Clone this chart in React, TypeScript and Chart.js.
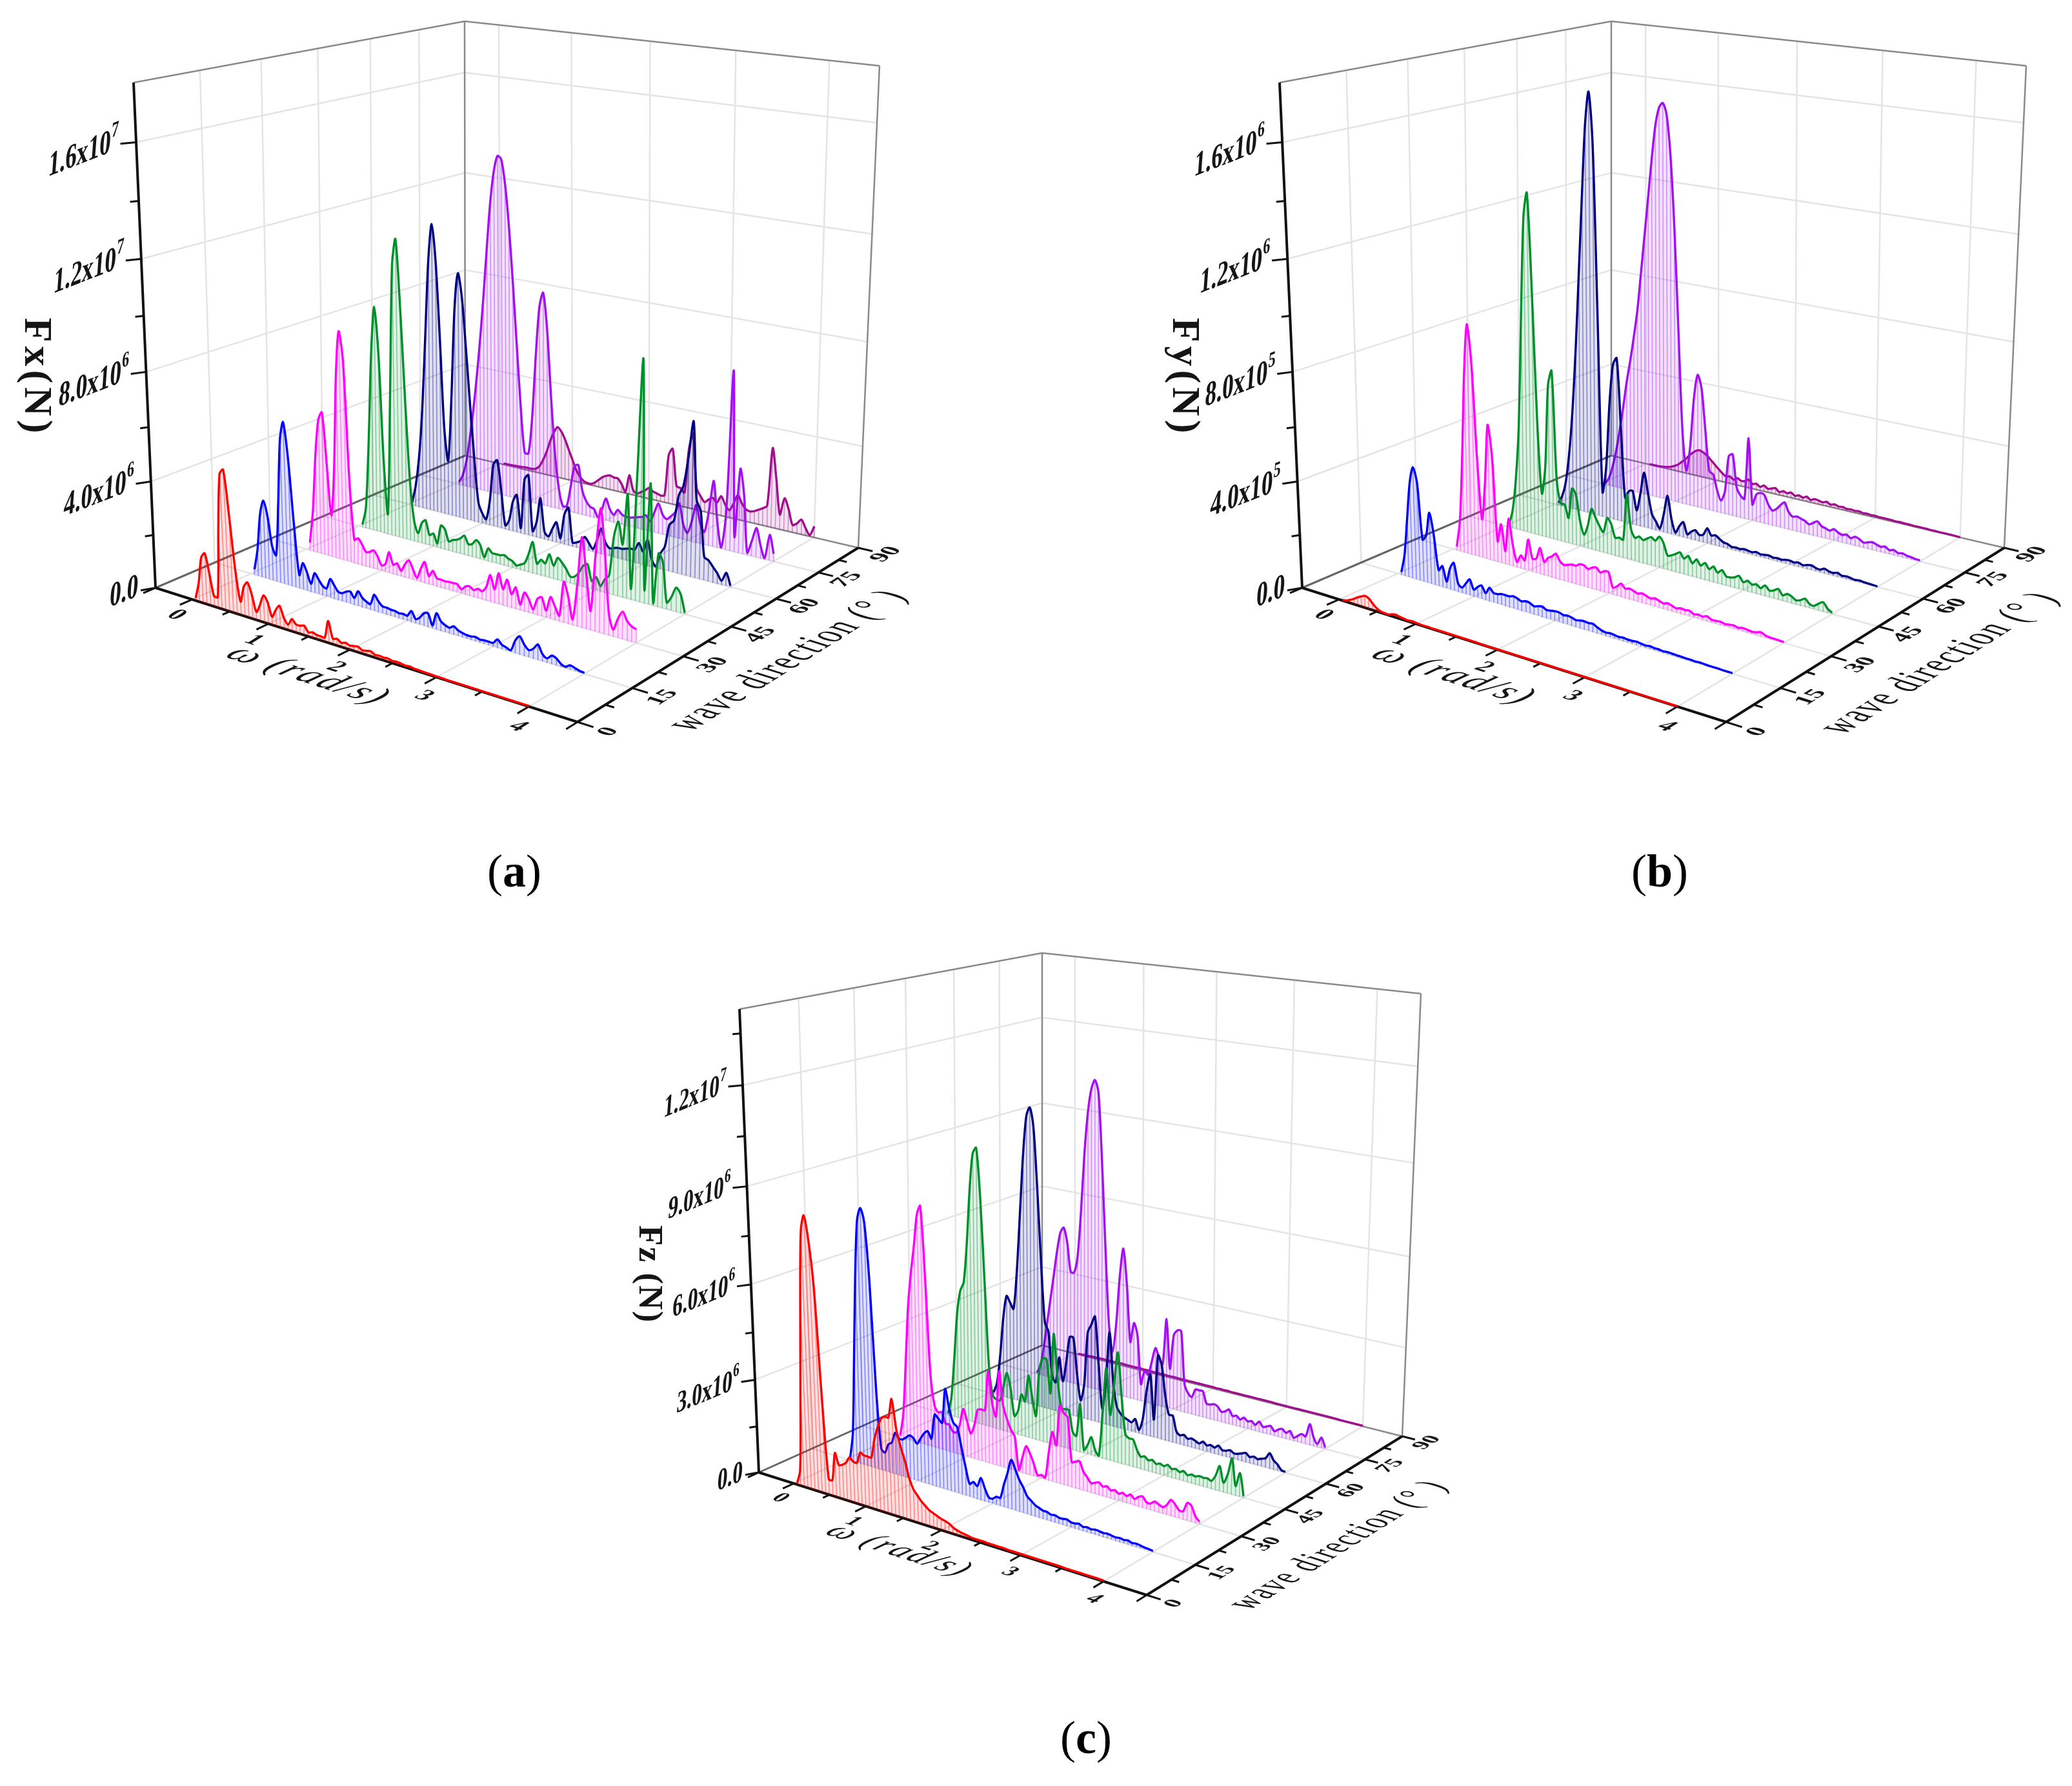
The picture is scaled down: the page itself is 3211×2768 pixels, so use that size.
import React, { useEffect, useRef } from "react";
import { Chart, registerables } from "chart.js";

Chart.register(...registerables);

const OMEGA = [
  0.05, 0.1, 0.15, 0.2, 0.25, 0.3, 0.35, 0.4, 0.45, 0.5,
  0.55, 0.6, 0.65, 0.7, 0.75, 0.8, 0.85, 0.9, 0.95, 1.0,
  1.05, 1.1, 1.15, 1.2, 1.25, 1.3, 1.35, 1.4, 1.45, 1.5,
  1.55, 1.6, 1.65, 1.7, 1.75, 1.8, 1.85, 1.9, 1.95, 2.0,
  2.05, 2.1, 2.15, 2.2, 2.25, 2.3, 2.35, 2.4, 2.45, 2.5,
  2.55, 2.6, 2.65, 2.7, 2.75, 2.8, 2.85, 2.9, 2.95, 3.0,
  3.05, 3.1, 3.15, 3.2, 3.25, 3.3, 3.35, 3.4, 3.45, 3.5,
  3.55, 3.6, 3.65, 3.7, 3.75, 3.8, 3.85, 3.9, 3.95, 4.0,
];
const DIRECTIONS = [0, 15, 30, 45, 60, 75, 90];
const SERIES_COLORS = ["#ff0000", "#0000ff", "#ff00ff", "#008f2a", "#000080", "#a010f0", "#a0108c"];

// Fx, in units of 1e6 N
const FX_0 = [
  0.1, 0.7, 1.7, 1.9, 1.2, 0.4, 0.4, 3.0, 5.0, 5.2,
  3.6, 1.6, 0.5, 1.1, 1.3, 0.9, 0.3, 0.6, 1.0, 0.8,
  0.3, 0.6, 0.8, 0.4, 0.2, 0.45, 0.3, 0.3, 0.35, 0.15,
  0.2, 0.15, 0.15, 0.15, 0.8, 0.2, 0.25, 0.15, 0.2, 0.15,
  0.18, 0.2, 0.12, 0.15, 0.18, 0.1, 0.12, 0.1, 0.12, 0.08,
  0.1, 0.08, 0.06, 0.08, 0.05, 0.05, 0.04, 0.04, 0.03, 0.03,
  0.03, 0.02, 0.02, 0.02, 0.02, 0.02, 0.02, 0.02, 0.02, 0.02,
  0.02, 0.02, 0.02, 0.02, 0.02, 0.02, 0.02, 0.02, 0.02, 0.02,
];
const FX_15 = [
  0.2, 1.0, 2.4, 2.95, 2.4, 1.3, 1.0, 3.0, 5.4, 6.1,
  4.8, 2.4, 0.5, 1.0, 0.7, 0.3, 0.75, 0.55, 0.35, 0.3,
  0.7, 0.5, 0.3, 0.3, 0.4, 0.45, 0.25, 0.55, 0.35, 0.25,
  0.2, 0.6, 0.4, 0.25, 0.25, 0.22, 0.22, 0.18, 0.2, 0.18,
  0.4, 0.15, 0.25, 0.45, 0.5, 0.1, 0.6, 0.35, 0.25, 0.2,
  0.3, 0.2, 0.15, 0.12, 0.12, 0.15, 0.1, 0.12, 0.12, 0.12,
  0.3, 0.15, 0.1, 0.05, 0.45, 0.65, 0.4, 0.25, 0.35, 0.55,
  0.25, 0.15, 0.3, 0.25, 0.1, 0.05, 0.15, 0.1, 0.05, 0.03,
];
const FX_30 = [
  0.3, 1.6, 3.8, 5.2, 5.5, 3.6, 1.6, 3.5, 7.0, 8.7,
  7.6, 3.2, 0.9, 1.0, 0.8, 0.55, 0.6, 0.7, 0.5, 0.2,
  0.3, 0.8, 0.35, 0.45, 0.2, 0.5, 0.7, 0.4, 0.1, 0.5,
  0.8, 0.3, 0.55, 0.3, 0.3, 0.28, 0.3, 0.3, 0.3, 0.15,
  0.3, 0.35, 0.25, 0.35, 0.3, 0.5, 1.0, 0.5, 1.15, 0.6,
  1.0, 0.5, 0.8, 0.2, 0.7, 0.5, 0.15, 0.6, 0.7, 0.25,
  0.8, 0.5, 0.2, 1.5, 1.0, 0.2, 1.5, 3.3, 2.0, 0.7,
  2.8, 4.5, 3.0, 0.8, 0.25, 0.7, 1.0, 0.7, 0.55, 0.5,
];
const FX_45 = [
  0.1, 0.8, 3.5, 7.0, 8.8, 7.0, 3.0, 0.8, 5.5, 10.5,
  11.5, 9.0, 5.5, 2.4, 0.8, 0.35, 0.8, 0.95, 0.4, 0.5,
  0.15, 0.9, 0.8, 0.35, 0.45, 0.5, 0.6, 0.75, 0.45, 0.5,
  0.7, 0.55, 0.1, 0.5, 0.35, 0.35, 0.35, 0.4, 0.3, 0.25,
  0.12, 0.2, 0.3, 0.7, 1.2, 0.4, 0.6, 0.5, 0.9, 0.5,
  0.85, 0.7, 0.5, 0.25, 0.3, 0.5, 0.8, 0.9, 0.3, 0.5,
  0.2, 0.5, 0.7, 2.2, 2.8, 2.0, 3.9, 0.4, 4.5, 8.9,
  0.5, 4.5, 0.1, 2.0, 1.7, 0.25, 0.5, 0.9, 0.7, 0.05,
];
const FX_60 = [
  0.1, 0.8, 2.0, 4.0, 7.0, 10.0, 11.4, 10.0, 7.0, 3.5,
  2.2, 4.8, 8.3, 9.7, 8.8, 6.8, 4.6, 2.5, 0.8, 0.4,
  0.2, 1.0, 2.5, 2.7, 1.5, 0.15, 0.4, 1.2, 1.5, 0.2,
  2.2, 2.4, 0.2, 0.6, 1.6, 0.3, 0.15, 0.5, 0.8, 0.2,
  1.2, 1.5, 0.15, 0.2, 0.3, 0.5, 0.3, 0.1, 0.5, 1.0,
  0.5, 0.3, 0.35, 0.4, 0.4, 0.45, 0.5, 0.5, 0.8, 0.5,
  1.0, 0.3, 0.05, 0.6, 0.9, 1.8, 2.0, 3.0, 3.4, 4.5,
  5.9, 3.0, 2.6, 0.9, 0.8, 0.6, 0.4, 0.15, 0.5, 0.05,
];
const FX_75 = [
  0.1, 0.4, 1.0, 2.0, 3.2, 4.6, 6.2, 8.0, 10.0, 11.8,
  13.0, 13.6, 13.5, 12.6, 11.0, 8.8, 6.3, 3.8, 2.0, 2.0,
  3.5, 6.0, 8.0, 8.6, 7.2, 4.5, 2.2, 0.8, 0.15, 0.2,
  1.0, 1.9, 2.0, 1.0, 0.6, 0.4, 0.35, 0.05, 0.4, 0.9,
  0.5, 0.3, 0.55, 0.4, 0.35, 0.35, 0.4, 0.45, 0.5, 0.6,
  0.4, 0.8, 1.2, 0.8, 0.65, 0.8, 1.0, 1.4, 0.6, 0.3,
  0.8, 1.5, 0.8, 0.5, 1.4, 2.6, 1.0, 0.05, 1.5, 7.0,
  0.6, 3.3, 2.3, 0.1, 0.6, 1.15, 0.5, 0.05, 1.0, 0.3,
];
const FX_90 = [
  0.05, 0.05, 0.05, 0.06, 0.07, 0.08, 0.1, 0.1, 0.1, 0.15,
  0.3, 0.6, 1.0, 1.5, 1.9, 2.15, 2.0, 1.7, 1.3, 0.9,
  0.5, 0.25, 0.1, 0.05, 0.05, 0.15, 0.3, 0.45, 0.55, 0.6,
  0.55, 0.55, 0.35, 0.05, 0.8, 0.2, 0.1, 0.2, 0.3, 0.45,
  0.35, 0.3, 0.25, 0.3, 2.0, 2.3, 0.8, 0.75, 0.6, 2.4,
  3.1, 0.9, 0.6, 0.4, 0.55, 0.65, 0.5, 0.8, 0.5, 0.3,
  0.6, 1.0, 0.7, 0.5, 0.45, 0.5, 0.6, 0.7, 0.85, 3.2,
  2.0, 0.6, 1.3, 0.9, 0.3, 0.4, 0.6, 0.3, 0.05, 0.45,
];

// Fy, in units of 1e5 N
const FY_0 = [
  0.02, 0.05, 0.12, 0.2, 0.3, 0.38, 0.45, 0.4, 0.25, 0.12,
  0.05, 0.03, 0.02, 0.08, 0.1, 0.07, 0.05, 0.03, 0.05, 0.04,
  0.03, 0.02, 0.03, 0.02, 0.02, 0.02, 0.02, 0.02, 0.02, 0.02,
  0.02, 0.02, 0.02, 0.02, 0.02, 0.01, 0.01, 0.01, 0.01, 0.01,
  0.01, 0.01, 0.01, 0.01, 0.01, 0.01, 0.01, 0.01, 0.01, 0.01,
  0.01, 0.01, 0.01, 0.01, 0.01, 0.01, 0.01, 0.01, 0.01, 0.01,
  0.01, 0.01, 0.01, 0.01, 0.01, 0.01, 0.01, 0.01, 0.01, 0.01,
  0.01, 0.01, 0.01, 0.01, 0.01, 0.01, 0.01, 0.01, 0.01, 0.01,
];
const FY_15 = [
  0.1, 0.8, 2.2, 3.6, 4.25, 3.7, 1.6, 1.8, 2.7, 1.9,
  0.6, 0.8, 0.25, 0.8, 1.05, 0.3, 0.2, 0.4, 0.6, 0.25,
  0.4, 0.5, 0.25, 0.5, 0.35, 0.35, 0.4, 0.4, 0.4, 0.45,
  0.4, 0.35, 0.4, 0.38, 0.3, 0.35, 0.38, 0.3, 0.32, 0.35,
  0.35, 0.3, 0.32, 0.3, 0.25, 0.28, 0.3, 0.28, 0.3, 0.22,
  0.15, 0.12, 0.14, 0.12, 0.1, 0.12, 0.1, 0.1, 0.12, 0.1,
  0.08, 0.1, 0.08, 0.08, 0.06, 0.08, 0.07, 0.06, 0.06, 0.05,
  0.05, 0.04, 0.05, 0.04, 0.03, 0.03, 0.03, 0.02, 0.02, 0.02,
];
const FY_30 = [
  0.15, 1.2, 3.8, 7.0, 8.8, 7.4, 3.8, 1.5, 3.0, 5.2,
  4.0, 0.8, 1.5, 0.5, 1.8, 0.8, 0.2, 0.5, 0.35, 1.2,
  0.5, 0.55, 1.0, 0.5, 0.7, 0.8, 0.95, 0.7, 0.6, 0.65,
  0.7, 0.7, 0.8, 0.8, 0.7, 0.8, 0.85, 0.7, 0.8, 0.8,
  0.25, 0.35, 0.5, 0.35, 0.4, 0.35, 0.3, 0.35, 0.3, 0.25,
  0.3, 0.25, 0.2, 0.25, 0.2, 0.15, 0.2, 0.18, 0.2, 0.12,
  0.15, 0.12, 0.18, 0.1, 0.1, 0.12, 0.08, 0.1, 0.12, 0.08,
  0.12, 0.1, 0.08, 0.1, 0.15, 0.08, 0.05, 0.05, 0.04, 0.03,
];
const FY_45 = [
  0.1, 0.7, 2.0, 4.2, 8.5, 12.2, 13.1, 9.5, 4.5, 1.7,
  2.8, 6.0, 6.6, 2.4, 1.5, 1.5, 1.0, 2.2, 2.0, 1.0,
  0.5, 0.9, 1.6, 1.3, 1.0, 0.8, 1.4, 1.2, 0.7, 0.75,
  0.7, 2.5, 1.2, 0.9, 1.0, 0.9, 1.0, 1.1, 1.0, 1.2,
  1.0, 0.55, 0.6, 0.7, 0.8, 0.6, 0.75, 0.5, 0.7, 0.5,
  0.65, 0.45, 0.6, 0.4, 0.55, 0.35, 0.35, 0.4, 0.5, 0.3,
  0.4, 0.3, 0.35, 0.25, 0.4, 0.25, 0.3, 0.4, 0.2, 0.3,
  0.25, 0.15, 0.2, 0.3, 0.15, 0.12, 0.25, 0.35, 0.15, 0.05,
];
const FY_60 = [
  0.1, 0.4, 1.0, 2.2, 4.0, 6.5, 9.5, 12.5, 15.2, 16.4,
  14.5, 8.0, 1.0, 2.0, 4.6, 6.2, 6.5, 3.8, 1.0, 1.3,
  1.35, 0.6, 1.3, 2.2, 1.4, 0.6, 0.35, 0.1, 0.7, 1.5,
  0.6, 0.1, 0.4, 0.6, 0.15, 0.3, 0.4, 0.25, 0.3, 0.6,
  0.35, 0.4, 0.3, 0.2, 0.18, 0.1, 0.12, 0.1, 0.14, 0.12,
  0.1, 0.15, 0.1, 0.12, 0.14, 0.1, 0.12, 0.1, 0.14, 0.15,
  0.12, 0.16, 0.1, 0.15, 0.18, 0.12, 0.1, 0.18, 0.12, 0.1,
  0.15, 0.08, 0.1, 0.08, 0.05, 0.07, 0.05, 0.04, 0.03, 0.02,
];
const FY_75 = [
  0.05, 0.3, 0.8, 1.5, 2.4, 3.4, 4.5, 5.4, 6.4, 7.5,
  9.0, 10.5, 12.0, 13.5, 14.8, 15.5, 15.7, 15.3, 13.8, 11.0,
  7.0, 3.0, 1.4, 2.4, 4.4, 5.4, 4.9, 3.2, 1.6, 1.5,
  0.9, 0.5, 0.9, 2.4, 2.5, 1.2, 0.9, 0.8, 3.3, 0.65,
  1.1, 1.2, 1.15, 0.8, 0.6, 0.7, 0.9, 1.05, 0.7, 0.55,
  0.6, 0.55, 0.5, 0.4, 0.5, 0.6, 0.45, 0.4, 0.35, 0.45,
  0.35, 0.3, 0.35, 0.25, 0.35, 0.3, 0.2, 0.25, 0.3, 0.25,
  0.2, 0.25, 0.15, 0.2, 0.12, 0.15, 0.1, 0.08, 0.05, 0.04,
];
const FY_90 = [
  0.02, 0.02, 0.02, 0.03, 0.05, 0.08, 0.12, 0.2, 0.3, 0.45,
  0.6, 0.8, 0.95, 1.08, 1.12, 1.05, 0.95, 0.8, 0.65, 0.5,
  0.36, 0.26, 0.3, 0.2, 0.3, 0.22, 0.25, 0.35, 0.2, 0.25,
  0.15, 0.25, 0.15, 0.2, 0.25, 0.12, 0.2, 0.15, 0.22, 0.12,
  0.18, 0.12, 0.2, 0.1, 0.18, 0.15, 0.12, 0.18, 0.1, 0.15,
  0.1, 0.12, 0.08, 0.1, 0.08, 0.1, 0.06, 0.08, 0.06, 0.07,
  0.05, 0.06, 0.05, 0.05, 0.04, 0.05, 0.04, 0.04, 0.03, 0.03,
  0.03, 0.03, 0.02, 0.02, 0.02, 0.02, 0.02, 0.02, 0.01, 0.01,
];

// Fz, in units of 1e6 N
const FZ_0 = [
  0.05, 0.5, 3.0, 5.8, 8.0, 8.5, 7.8, 6.4, 3.0, 0.5,
  0.5, 1.4, 1.05, 1.1, 1.2, 1.4, 1.3, 1.3, 1.65, 1.6,
  1.6, 1.6, 2.2, 2.6, 2.9, 3.0, 3.0, 3.6, 2.7, 2.2,
  1.8, 1.3, 1.0, 0.85, 0.7, 0.6, 0.5, 0.45, 0.4, 0.35,
  0.32, 0.28, 0.2, 0.15, 0.12, 0.1, 0.08, 0.06, 0.06, 0.06,
  0.06, 0.05, 0.05, 0.05, 0.05, 0.05, 0.04, 0.04, 0.04, 0.04,
  0.04, 0.04, 0.04, 0.04, 0.04, 0.04, 0.04, 0.04, 0.04, 0.04,
  0.03, 0.03, 0.03, 0.03, 0.03, 0.03, 0.03, 0.03, 0.03, 0.03,
];
const FZ_15 = [
  0.05, 0.9, 3.4, 6.0, 7.8, 8.2, 7.8, 6.0, 2.6, 0.7,
  0.6, 0.9, 1.0, 1.35, 1.2, 1.2, 1.3, 1.4, 1.35, 1.2,
  1.4, 1.6, 1.7, 1.5, 2.3, 2.2, 2.1, 3.2, 2.6, 2.2,
  2.1, 1.5, 0.9, 0.4, 0.5, 0.4, 0.7, 0.4, 0.15, 0.15,
  0.25, 0.25, 0.7, 1.1, 1.55, 1.3, 1.0, 0.8, 0.55, 0.45,
  0.35, 0.3, 0.25, 0.25, 0.2, 0.22, 0.18, 0.18, 0.2, 0.15,
  0.15, 0.18, 0.12, 0.15, 0.12, 0.15, 0.14, 0.12, 0.14, 0.12,
  0.1, 0.12, 0.1, 0.12, 0.08, 0.1, 0.08, 0.06, 0.05, 0.03,
];
const FZ_30 = [
  0.05, 0.8, 2.6, 4.5, 5.6, 6.5, 7.5, 7.8, 5.5, 2.4,
  1.4, 1.2, 1.25, 0.9, 0.9, 0.7, 0.7, 1.0, 1.55, 1.2,
  0.8, 1.1, 1.65, 1.7, 1.7, 3.0, 2.0, 1.6, 3.1, 2.0,
  1.6, 1.3, 1.1, 0.05, 0.5, 0.9, 0.7, 0.4, 0.05, 0.1,
  0.05, 0.9, 1.6, 1.2, 2.5, 2.3, 2.2, 0.8, 0.85, 0.9,
  0.6, 0.45, 0.3, 0.35, 0.4, 0.3, 0.35, 0.25, 0.3, 0.22,
  0.28, 0.22, 0.3, 0.2, 0.3, 0.35, 0.2, 0.2, 0.3, 0.25,
  0.2, 0.3, 0.5, 0.4, 0.25, 0.25, 0.55, 0.5, 0.2, 0.08,
];
const FZ_45 = [
  0.05, 0.6, 2.0, 3.6, 4.4, 4.7, 6.0, 7.8, 9.0, 9.2,
  7.6, 4.8, 2.0, 1.1, 1.0, 1.0, 1.5, 2.0, 1.5, 0.6,
  0.8, 1.4, 1.2, 2.1, 1.4, 0.8, 2.4, 2.8, 2.8, 1.7,
  3.7, 2.2, 1.3, 1.3, 1.3, 0.6, 0.5, 1.6, 0.1, 0.3,
  0.6, 0.2, 0.05, 1.5, 3.0, 1.5, 2.5, 3.6, 2.2, 1.0,
  0.9, 0.9, 0.6, 0.4, 0.45, 0.35, 0.4, 0.3, 0.35, 0.3,
  0.38, 0.28, 0.32, 0.25, 0.32, 0.22, 0.28, 0.25, 0.3, 0.28,
  0.3, 0.25, 0.45, 0.8, 0.3, 0.6, 1.15, 0.3, 0.75, 0.05,
];
const FZ_60 = [
  0.05, 0.4, 1.4, 2.8, 3.6, 3.4, 3.2, 4.5, 6.5, 8.5,
  9.8, 10.1, 9.5, 7.5, 5.0, 3.0, 2.7, 1.2, 1.0, 1.9,
  1.1, 1.8, 2.7, 2.7, 1.5, 0.6, 1.2, 3.0, 3.3, 3.6,
  2.0, 0.5, 1.5, 3.2, 1.5, 0.7, 0.5, 0.4, 0.35, 0.3,
  0.45, 0.1, 0.5, 1.5, 2.1, 0.6, 2.8, 2.5, 1.5, 0.9,
  0.9, 0.4, 0.3, 0.35, 0.25, 0.3, 0.25, 0.2, 0.3, 0.2,
  0.25, 0.2, 0.3, 0.18, 0.2, 0.25, 0.18, 0.2, 0.25, 0.3,
  0.2, 0.25, 0.2, 0.25, 0.3, 0.5, 0.3, 0.2, 0.05, 0.03,
];
const FZ_75 = [
  0.05, 0.3, 1.0, 1.9, 2.8, 3.7, 4.6, 5.3, 5.5, 5.0,
  4.0, 4.0, 4.6, 6.2, 8.2, 9.6, 10.4, 10.7, 10.3, 8.0,
  5.0, 2.4, 1.5, 2.5, 4.2, 5.2, 4.0, 2.0, 2.7, 2.3,
  0.6, 1.1, 1.0, 1.5, 2.0, 1.7, 1.5, 3.1, 1.4, 2.6,
  2.8, 2.8, 1.0, 0.7, 0.6, 0.9, 0.9, 0.9, 0.5, 0.5,
  0.55, 0.5, 0.35, 0.4, 0.5, 0.3, 0.35, 0.25, 0.35, 0.25,
  0.3, 0.2, 0.35, 0.2, 0.25, 0.3, 0.15, 0.25, 0.3, 0.2,
  0.3, 0.1, 0.2, 0.3, 0.25, 0.7, 0.3, 0.1, 0.35, 0.05,
];
const FZ_90 = [
  0.03, 0.03, 0.04, 0.04, 0.05, 0.05, 0.05, 0.06, 0.06, 0.06,
  0.06, 0.06, 0.06, 0.07, 0.06, 0.06, 0.06, 0.06, 0.07, 0.06,
  0.06, 0.06, 0.05, 0.06, 0.05, 0.06, 0.05, 0.05, 0.06, 0.05,
  0.05, 0.05, 0.05, 0.05, 0.05, 0.05, 0.05, 0.05, 0.05, 0.05,
  0.04, 0.05, 0.04, 0.05, 0.04, 0.04, 0.04, 0.04, 0.04, 0.04,
  0.04, 0.04, 0.04, 0.04, 0.04, 0.04, 0.03, 0.03, 0.03, 0.03,
  0.03, 0.03, 0.03, 0.03, 0.03, 0.03, 0.03, 0.03, 0.03, 0.03,
  0.03, 0.03, 0.03, 0.02, 0.02, 0.02, 0.02, 0.02, 0.02, 0.02,
];

const OMEGA_TICKS = [0, 1, 2, 3, 4];
const OMEGA_MINOR = [0.5, 1.5, 2.5, 3.5];
const DIR_MINOR = [7.5, 22.5, 37.5, 52.5, 67.5, 82.5];
const OMEGA_MIN = -0.5;
const OMEGA_MAX = 4.5;

type Pt = [number, number];

const PANELS = [
  {
    box: { x: 0, y: 0, w: 1605, h: 1420 },
    caption: "a", captionAt: [797, 1355] as Pt,
    corners: { A: [241, 911], B: [895, 1119], C: [721, 706], D: [1330, 849], At: [207, 128], Bt: [903, 250], Ct: [720, 33], Dt: [1363, 102] },
    series: [FX_0, FX_15, FX_30, FX_45, FX_60, FX_75, FX_90],
    zMax: 18,
    zTicks: [0, 4, 8, 12, 16],
    zMinor: [2, 6, 10, 14],
    zLabels: [["0.0", ""], ["4.0x10", "6"], ["8.0x10", "6"], ["1.2x10", "7"], ["1.6x10", "7"]],
    title: "Fx(N)", titleAt: [55, 585] as Pt, titleSize: 62, titleGap: 6,
    tickFont: 37, omegaAt: [477, 1047] as Pt, dirAt: [1222, 1024] as Pt,
  },
  {
    box: { x: 1605, y: 0, w: 1606, h: 1420 },
    caption: "b", captionAt: [2572, 1355] as Pt,
    corners: { A: [2018, 911], B: [2675, 1119], C: [2497, 706], D: [3106, 849], At: [1983, 128], Bt: [2683, 250], Ct: [2497, 33], Dt: [3140, 102] },
    series: [FY_0, FY_15, FY_30, FY_45, FY_60, FY_75, FY_90],
    zMax: 18,
    zTicks: [0, 4, 8, 12, 16],
    zMinor: [2, 6, 10, 14],
    zLabels: [["0.0", ""], ["4.0x10", "5"], ["8.0x10", "5"], ["1.2x10", "6"], ["1.6x10", "6"]],
    title: "Fy(N)", titleAt: [1834, 585] as Pt, titleSize: 62, titleGap: 6,
    tickFont: 37, omegaAt: [2252, 1047] as Pt, dirAt: [3007, 1028] as Pt,
  },
  {
    box: { x: 900, y: 1420, w: 1400, h: 1348 },
    caption: "c", captionAt: [1683, 2698] as Pt,
    corners: { A: [1176, 2282], B: [1777, 2472], C: [1615, 2085], D: [2173, 2226], At: [1146, 1564], Bt: [1785, 1662], Ct: [1615, 1477], Dt: [2202, 1540] },
    series: [FZ_0, FZ_15, FZ_30, FZ_45, FZ_60, FZ_75, FZ_90],
    zMax: 14.2,
    zTicks: [0, 3, 6, 9, 12],
    zMinor: [1.5, 4.5, 7.5, 10.5, 13.5],
    zLabels: [["0.0", ""], ["3.0x10", "6"], ["6.0x10", "6"], ["9.0x10", "6"], ["1.2x10", "7"]],
    title: "Fz (N)", titleAt: [1004, 1975] as Pt, titleSize: 52, titleGap: 2,
    tickFont: 33, omegaAt: [1393, 2403] as Pt, dirAt: [2075, 2395] as Pt,
  },
];

function squareToQuad(p00: number[], p10: number[], p01: number[], p11: number[]) {
  const dx1 = p10[0] - p11[0], dx2 = p01[0] - p11[0], sx = p00[0] - p10[0] + p11[0] - p01[0];
  const dy1 = p10[1] - p11[1], dy2 = p01[1] - p11[1], sy = p00[1] - p10[1] + p11[1] - p01[1];
  const den = dx1 * dy2 - dx2 * dy1;
  const g = (sx * dy2 - dx2 * sy) / den;
  const h = (dx1 * sy - sx * dy1) / den;
  const a = p10[0] - p00[0] + g * p10[0], b = p01[0] - p00[0] + h * p01[0], c = p00[0];
  const d = p10[1] - p00[1] + g * p10[1], e = p01[1] - p00[1] + h * p01[1], f = p00[1];
  return (u: number, v: number): Pt => {
    const w = g * u + h * v + 1;
    return [(a * u + b * v + c) / w, (d * u + e * v + f) / w];
  };
}

function makeProjector(panel: (typeof PANELS)[number]) {
  const c = panel.corners;
  const floor = squareToQuad(c.A, c.B, c.C, c.D);
  const roof = squareToQuad(c.At, c.Bt, c.Ct, c.Dt);
  return (omega: number, dir: number, z: number): Pt => {
    const u = (omega - OMEGA_MIN) / (OMEGA_MAX - OMEGA_MIN);
    const v = dir / 90;
    const fr = z / panel.zMax;
    const t = fr / (1.072 - 0.072 * fr);
    const p = floor(u, v), q = roof(u, v);
    return [p[0] + t * (q[0] - p[0]), p[1] + t * (q[1] - p[1])];
  };
}

const GAP = { x: NaN, y: NaN };
const xy = (p: Pt) => ({ x: p[0], y: p[1] });
const lineSet = (data: any[], color: string, width: number, tension = 0) => ({
  data, borderColor: color, borderWidth: width, showLine: true, pointRadius: 0, fill: false, tension,
});

function buildDatasets(panel: (typeof PANELS)[number]) {
  const P = makeProjector(panel);
  const top = panel.zMax;
  const sets: any[] = [];

  const grid: any[] = [];
  const seg = (list: any[], a: Pt, b: Pt) => list.push(xy(a), xy(b), GAP);
  for (const w of OMEGA_TICKS) {
    seg(grid, P(w, 0, 0), P(w, 90, 0));
    seg(grid, P(w, 90, 0), P(w, 90, top));
  }
  for (const d of DIRECTIONS.slice(1, 6)) {
    seg(grid, P(OMEGA_MIN, d, 0), P(OMEGA_MAX, d, 0));
    seg(grid, P(OMEGA_MIN, d, 0), P(OMEGA_MIN, d, top));
  }
  for (const z of panel.zTicks.slice(1)) {
    seg(grid, P(OMEGA_MIN, 0, z), P(OMEGA_MIN, 90, z));
    seg(grid, P(OMEGA_MIN, 90, z), P(OMEGA_MAX, 90, z));
  }
  sets.push(lineSet(grid, "rgba(190,190,190,0.42)", 2.5));

  const frame: any[] = [];
  seg(frame, P(OMEGA_MIN, 0, top), P(OMEGA_MIN, 90, top));
  seg(frame, P(OMEGA_MIN, 90, top), P(OMEGA_MAX, 90, top));
  seg(frame, P(OMEGA_MIN, 90, 0), P(OMEGA_MIN, 90, top));
  seg(frame, P(OMEGA_MAX, 90, 0), P(OMEGA_MAX, 90, top));
  seg(frame, P(OMEGA_MIN, 90, 0), P(OMEGA_MAX, 90, 0));
  sets.push(lineSet(frame, "#8a8a8a", 2.5));
  sets.push(lineSet([xy(P(OMEGA_MIN, 0, 0)), xy(P(OMEGA_MIN, 90, 0))], "#666666", 3));

  const axes: any[] = [];
  seg(axes, P(OMEGA_MIN, 0, 0), P(OMEGA_MIN, 0, top));
  seg(axes, P(OMEGA_MIN, 0, 0), P(OMEGA_MAX, 0, 0));
  seg(axes, P(OMEGA_MAX, 0, 0), P(OMEGA_MAX, 90, 0));
  const ticks: any[] = [];
  for (const z of panel.zTicks) seg(ticks, P(OMEGA_MIN, 0, z), P(OMEGA_MIN - 0.07, -2.4, z));
  for (const z of panel.zMinor) seg(ticks, P(OMEGA_MIN, 0, z), P(OMEGA_MIN - 0.04, -1.3, z));
  for (const w of [OMEGA_MIN, ...OMEGA_TICKS, OMEGA_MAX]) seg(ticks, P(w, 0, 0), P(w, -3, 0));
  for (const w of OMEGA_MINOR) seg(ticks, P(w, 0, 0), P(w, -1.8, 0));
  for (const d of DIRECTIONS) seg(ticks, P(OMEGA_MAX, d, 0), P(OMEGA_MAX + 0.16, d, 0));
  for (const d of DIR_MINOR) seg(ticks, P(OMEGA_MAX, d, 0), P(OMEGA_MAX + 0.09, d, 0));
  sets.push(lineSet(axes, "#111111", 4));
  sets.push(lineSet(ticks, "#111111", 3));

  for (let s = panel.series.length - 1; s >= 0; s--) {
    const values = panel.series[s];
    const dir = DIRECTIONS[s];
    const color = SERIES_COLORS[s];
    const line = OMEGA.map((w, i) => xy(P(w, dir, values[i])));
    const base = OMEGA.map((w) => xy(P(w, dir, 0)));
    const shape = [...line, ...base.slice().reverse()];
    const drops: any[] = [];
    line.forEach((p, i) => drops.push(base[i], p, GAP));
    sets.push({
      data: shape, showLine: true, pointRadius: 0, borderWidth: 0,
      borderColor: "transparent", backgroundColor: color + "1f", fill: "shape",
    });
    sets.push(lineSet(drops, color + "66", 1.6));
    sets.push(lineSet(line, color, 3.4, 0.28));
  }
  sets.forEach((d, i) => { d.order = sets.length - i; });
  return sets;
}

function shearText(ctx: any, text: string, x: number, y: number, m: number[], font: string, align = "center", baseline = "middle") {
  ctx.save();
  ctx.transform(m[0], m[1], m[2], m[3], x, y);
  ctx.font = font;
  ctx.textAlign = align;
  ctx.textBaseline = baseline;
  ctx.fillText(text, 0, 0);
  ctx.restore();
}

const unit = (a: Pt, b: Pt): Pt => {
  const dx = b[0] - a[0], dy = b[1] - a[1], l = Math.hypot(dx, dy);
  return [dx / l, dy / l];
};

function labelPlugin(panel: (typeof PANELS)[number]) {
  return {
    id: "panelLabels",
    afterDraw(chart: any) {
      const ctx = chart.ctx;
      const sx = chart.scales.x, sy = chart.scales.y;
      const px = (p: Pt): Pt => [sx.getPixelForValue(p[0]), sy.getPixelForValue(p[1])];
      const P = makeProjector(panel);
      const serif = '"Liberation Serif"';
      ctx.save();
      ctx.fillStyle = "#151515";
      const uDir = unit(P(0, 0, 0), P(4, 0, 0));
      const vDir = unit(P(OMEGA_MAX, 0, 0), P(OMEGA_MAX, 90, 0));
      const wallSlope = (P(OMEGA_MIN, 90, 0)[1] - P(OMEGA_MIN, 0, 0)[1]) / (P(OMEGA_MIN, 90, 0)[0] - P(OMEGA_MIN, 0, 0)[0]);

      // value axis labels, lying on the left wall
      panel.zTicks.forEach((z, i) => {
        const [main, exp] = panel.zLabels[i];
        const tip = P(OMEGA_MIN - 0.07, -2.4, z);
        const size = panel.tickFont * 1.08;
        const fMain = `bold ${size}px ${serif}`;
        const fExp = `bold ${Math.round(size * 0.62)}px ${serif}`;
        ctx.font = fMain;
        const wMain = ctx.measureText(main).width;
        ctx.font = fExp;
        const wExp = exp ? ctx.measureText(exp).width : 0;
        const total = wMain + wExp;
        const q = px([tip[0] - 5, tip[1] + 9]);
        const m = [0.88, wallSlope * 0.8, -0.1, 1.35];
        ctx.save();
        ctx.transform(m[0], m[1], m[2], m[3], q[0], q[1]);
        ctx.textAlign = "left";
        ctx.textBaseline = "alphabetic";
        ctx.font = fMain;
        ctx.fillText(main, -total, 0);
        if (exp) {
          ctx.font = fExp;
          ctx.fillText(exp, -wExp, -size * 0.42);
        }
        ctx.restore();
      });

      // floor labels
      const uM = [uDir[0], uDir[1], -vDir[0] * 0.95, -vDir[1] * 0.95];
      const vM = [vDir[0], vDir[1], uDir[0] * 0.95, uDir[1] * 0.95];
      const floorFont = `${Math.round(panel.tickFont * 1.02)}px ${serif}`;
      OMEGA_TICKS.forEach((w) => {
        const q = px(P(w + 0.15, -6.6, 0));
        shearText(ctx, String(w), q[0], q[1], uM, `bold ${floorFont}`);
      });
      DIRECTIONS.forEach((d) => {
        const q = px(P(OMEGA_MAX + 0.31, d, 0));
        shearText(ctx, String(d), q[0], q[1], vM, `bold ${floorFont}`);
      });
      const om = px(panel.omegaAt);
      ctx.save();
      ctx.letterSpacing = "3px";
      shearText(ctx, "ω (rad/s)", om[0], om[1], uM, `italic ${Math.round(panel.tickFont * 1.62)}px ${serif}`);
      ctx.restore();
      const dq = px(panel.dirAt);
      ctx.save();
      ctx.letterSpacing = "3px";
      const titleM = [vDir[0] * 0.88, vDir[1] * 0.88, uDir[0] * 1.3, uDir[1] * 1.3];
      shearText(ctx, "wave direction (° )", dq[0], dq[1], titleM, `${Math.round(panel.tickFont * 1.44)}px ${serif}`);
      ctx.restore();

      // vertical title
      const tq = px(panel.titleAt);
      ctx.save();
      ctx.letterSpacing = `${panel.titleGap}px`;
      shearText(ctx, panel.title, tq[0], tq[1], [0, 1, -1, 0], `bold ${panel.titleSize}px ${serif}`);
      ctx.restore();

      // caption
      const cq = px(panel.captionAt);
      ctx.textBaseline = "middle";
      ctx.textAlign = "left";
      const fa = `72px ${serif}`, fb = `bold 72px ${serif}`;
      ctx.font = fa;
      const pw = ctx.measureText("(").width;
      ctx.font = fb;
      const lw = ctx.measureText(panel.caption).width;
      const left = cq[0] - (2 * pw + lw) / 2;
      ctx.fillStyle = "#000000";
      ctx.font = fa;
      ctx.fillText("(", left, cq[1]);
      ctx.fillText(")", left + pw + lw, cq[1]);
      ctx.font = fb;
      ctx.fillText(panel.caption, left + pw, cq[1]);
      ctx.restore();
    },
  };
}

function Panel({ panel }: { panel: (typeof PANELS)[number] }) {
  const ref = useRef<HTMLCanvasElement | null>(null);
  useEffect(() => {
    if (!ref.current) return;
    const { box } = panel;
    const chart = new Chart(ref.current, {
      type: "scatter",
      data: { datasets: buildDatasets(panel) },
      options: {
        responsive: false,
        animation: false,
        events: [],
        layout: { padding: 0 },
        scales: {
          x: { type: "linear", display: false, min: box.x, max: box.x + box.w },
          y: { type: "linear", display: false, reverse: true, min: box.y, max: box.y + box.h },
        },
        plugins: {
          legend: { display: false },
          title: { display: false },
          tooltip: { enabled: false },
          filler: { drawTime: "beforeDatasetDraw", propagate: false },
        },
      },
      plugins: [labelPlugin(panel)],
    } as any);
    return () => chart.destroy();
  }, [panel]);
  const { box } = panel;
  return (
    <canvas
      ref={ref}
      width={box.w}
      height={box.h}
      style={{ position: "absolute", left: box.x, top: box.y, width: box.w, height: box.h, display: "block" }}
    />
  );
}

export default function App() {
  return (
    <div style={{ position: "absolute", left: 0, top: 0, width: 3211, height: 2768, background: "#ffffff", overflow: "hidden" }}>
      {PANELS.map((p) => (
        <Panel key={p.caption} panel={p} />
      ))}
    </div>
  );
}
